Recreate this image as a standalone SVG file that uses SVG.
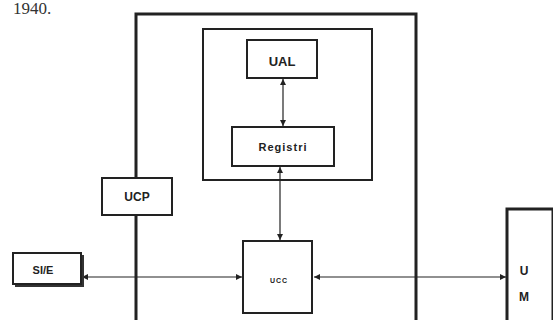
<svg xmlns="http://www.w3.org/2000/svg" width="553" height="320" viewBox="0 0 553 320">
<style>
.box{fill:#fff;stroke:#222;stroke-width:2}
.thick{fill:none;stroke:#222;stroke-width:3}
.lbl{font-family:"Liberation Sans",Arial,sans-serif;font-weight:bold;fill:#222;text-anchor:middle}
.ln{stroke:#222;stroke-width:1.2;fill:none}
</style>
<defs>
<marker id="ah" viewBox="0 0 10 10" refX="10" refY="5" markerWidth="6" markerHeight="6" orient="auto-start-reverse" markerUnits="userSpaceOnUse">
<path d="M0,0 L10,5 L0,10 z" fill="#222"/>
</marker>
</defs>
<rect width="553" height="320" fill="#fff"/>
<text x="13" y="14" font-family="Liberation Serif,serif" font-size="17" fill="#333">1940.</text>
<g id="ucp-frame"><path class="thick" d="M136,322 V14 H416 V322"/></g>
<g id="inner"><rect class="box" x="203" y="29" width="169" height="151" fill="none"/></g>
<g id="connectors">
<line class="ln" x1="283" y1="79" x2="283" y2="126" marker-start="url(#ah)" marker-end="url(#ah)"/>
<line class="ln" x1="280" y1="167" x2="280" y2="240" marker-start="url(#ah)" marker-end="url(#ah)"/>
<line class="ln" x1="82" y1="277" x2="242" y2="277" marker-start="url(#ah)" marker-end="url(#ah)"/>
<line class="ln" x1="314" y1="277" x2="506" y2="277" marker-start="url(#ah)" marker-end="url(#ah)"/>
</g>
<g id="ual"><rect class="box" x="247" y="40" width="70" height="38"/><text class="lbl" x="282" y="66" font-size="13">UAL</text></g>
<g id="registri"><rect class="box" x="232" y="127" width="102" height="39"/><text class="lbl" x="283" y="151" font-size="11" letter-spacing="1">Registri</text></g>
<g id="ucp"><rect class="box" x="102" y="178" width="70" height="37"/><text class="lbl" x="137" y="201" font-size="12">UCP</text></g>
<g id="sie"><rect x="15" y="255" width="69" height="32" fill="#333"/><rect class="box" x="13" y="253" width="68" height="31"/><text class="lbl" x="43" y="274" font-size="11">SI/E</text></g>
<g id="ucc"><rect class="box" x="243" y="241" width="69" height="72"/><text class="lbl" x="279" y="283" font-size="7" letter-spacing="1">UCC</text></g>
<g id="um"><rect x="507" y="209" width="46" height="115" fill="#fff" stroke="#222" stroke-width="3"/><text class="lbl" x="524" y="275" font-size="12" fill="#222">U</text><text class="lbl" x="524" y="301" font-size="12" fill="#222">M</text></g>
</svg>
